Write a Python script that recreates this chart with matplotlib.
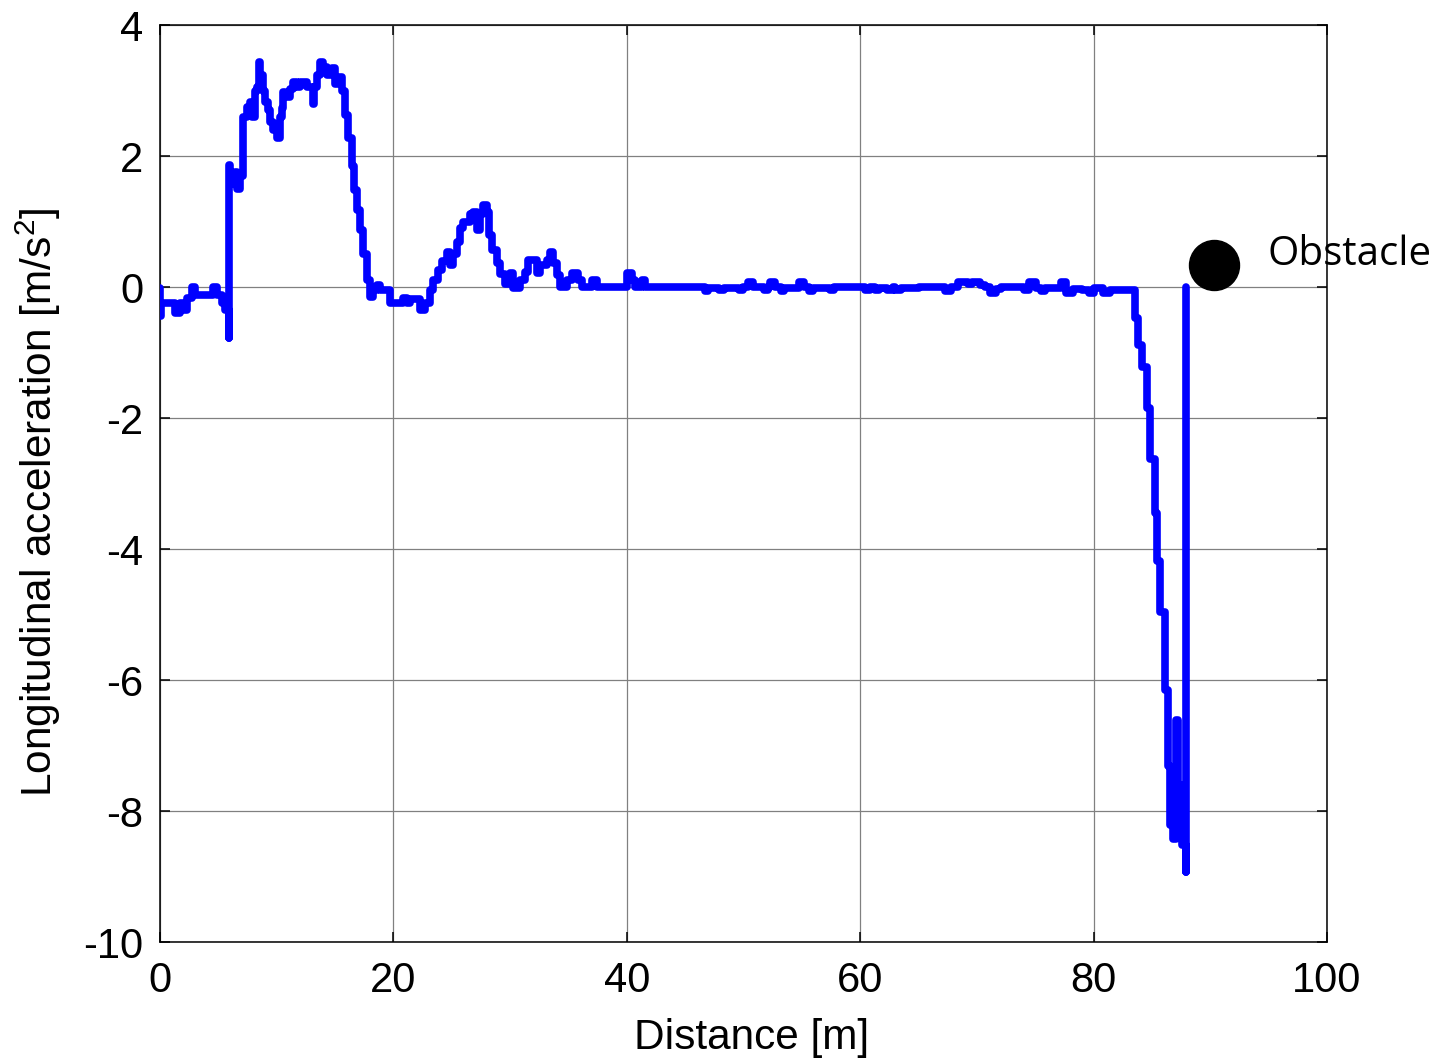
import matplotlib
matplotlib.use("Agg")
import matplotlib.pyplot as plt

plt.rcParams['font.family'] = ['Liberation Sans', 'DejaVu Sans']
plt.rcParams['mathtext.fontset'] = 'custom'
plt.rcParams['mathtext.rm'] = 'Liberation Sans'
plt.rcParams['axes.unicode_minus'] = False

# distance [m] where each constant acceleration step begins
dist = [0.0, 0.03, 0.06, 1.29, 1.71, 2.0, 2.29, 2.71, 3.0, 4.57, 4.86, 5.29, 5.57,
        5.91, 5.94, 5.97, 6.14, 6.43, 6.63, 6.86, 7.09, 7.43, 7.71, 7.86, 8.14,
        8.29, 8.45, 8.57, 8.86, 9.0, 9.29, 9.43, 9.71, 10.0, 10.29, 10.43, 10.57,
        10.71, 11.14, 11.43, 11.71, 12.0, 12.57, 13.09, 13.2, 13.43, 13.71, 14.0,
        14.29, 14.71, 15.0, 15.29, 15.57, 15.86, 16.14, 16.43, 16.63, 16.91, 17.14,
        17.43, 17.71, 18.0, 18.23, 18.57, 18.86, 19.71, 20.86, 21.14, 21.43, 22.29,
        22.71, 23.14, 23.43, 23.86, 24.14, 24.57, 24.86, 25.14, 25.43, 25.71, 26.0,
        26.57, 26.86, 27.2, 27.43, 27.71, 28.0, 28.23, 28.43, 28.86, 29.14, 29.57,
        30.0, 30.29, 30.86, 31.29, 31.57, 32.29, 32.57, 33.14, 33.43, 33.71, 34.0,
        34.29, 34.86, 35.29, 35.86, 36.14, 37.0, 37.43, 40.0, 40.43, 40.71, 41.29,
        41.57, 46.7, 47.0, 47.9, 48.3, 49.6, 50.0, 50.4, 50.8, 51.8, 52.1, 52.3,
        52.7, 53.2, 53.5, 54.8, 55.2, 55.6, 56.0, 57.4, 57.8, 60.4, 60.8, 61.3,
        61.6, 62.3, 62.8, 63.0, 63.5, 65.0, 67.3, 67.8, 68.4, 69.2, 69.6, 70.3,
        70.7, 71.1, 71.6, 72.1, 74.0, 74.5, 75.1, 75.5, 75.8, 77.2, 77.6, 78.2,
        79.0, 79.6, 80.0, 80.8, 81.4, 83.55, 83.83, 84.12, 84.55, 84.83, 85.26,
        85.43, 85.69, 86.12, 86.38, 86.55, 86.8, 87.05, 87.2, 87.4, 87.55, 87.92,
        87.95]

# longitudinal acceleration [m/s^2]
accel = [-0.02, -0.45, -0.25, -0.4, -0.25, -0.35, -0.17, 0.0, -0.12, 0.0, -0.12,
         -0.25, -0.35, -0.78, 1.86, 1.74, 1.58, 1.76, 1.5, 1.7, 2.6, 2.75, 2.83,
         2.6, 3.0, 3.06, 3.44, 3.24, 3.0, 2.83, 2.7, 2.52, 2.4, 2.27, 2.6, 2.73,
         2.98, 2.9, 3.03, 3.13, 3.06, 3.13, 3.06, 2.8, 3.06, 3.24, 3.44, 3.36,
         3.24, 3.34, 3.1, 3.2, 3.0, 2.63, 2.27, 1.84, 1.48, 1.18, 0.87, 0.51, 0.1,
         -0.15, -0.05, 0.03, -0.05, -0.25, -0.17, -0.25, -0.18, -0.35, -0.25,
         -0.05, 0.1, 0.26, 0.39, 0.54, 0.34, 0.51, 0.69, 0.9, 1.0, 1.12, 1.15,
         0.87, 1.12, 1.25, 1.15, 0.79, 0.56, 0.36, 0.2, 0.05, 0.21, -0.02, 0.1,
         0.23, 0.41, 0.21, 0.34, 0.41, 0.54, 0.36, 0.18, 0.0, 0.1, 0.21, 0.1, 0.0,
         0.1, 0.0, 0.21, 0.1, 0.0, 0.1, 0.0, -0.06, -0.02, -0.04, -0.01, -0.05,
         0.0, 0.07, 0.0, -0.05, 0.0, 0.08, 0.0, -0.06, -0.01, 0.08, 0.0, -0.06,
         -0.01, -0.05, 0.0, -0.04, 0.0, -0.05, -0.02, -0.05, 0.0, -0.04, -0.01,
         0.0, -0.06, 0.0, 0.07, 0.05, 0.08, 0.03, 0.0, -0.09, -0.03, 0.0, -0.05,
         0.07, -0.02, -0.06, -0.01, 0.08, -0.09, -0.03, -0.05, -0.09, -0.02,
         -0.09, -0.04, -0.48, -0.885, -1.22, -1.85, -2.62, -3.45, -4.19, -4.96,
         -6.15, -7.32, -8.21, -8.42, -6.61, -7.85, -7.6, -8.52, -8.93, 0.0]

obstacle_x = 90.3
obstacle_y = 0.33

fig = plt.figure(figsize=(14.4, 10.6), dpi=100)
ax = fig.add_axes([0.1111, 0.1113, 0.8104, 0.8651])

ax.plot(dist, accel, drawstyle='steps-post', color='#0000ff', lw=5.5,
        solid_joinstyle='round', solid_capstyle='round', zorder=3)
ax.plot([obstacle_x], [obstacle_y], 'o', color='black', ms=36, clip_on=False, zorder=4)
ax.text(94.9, 0.34, 'Obstacle', fontsize=29, family=['Open Sans', 'DejaVu Sans'],
        va='baseline', ha='left', clip_on=False, zorder=5)

ax.set_xlim(0, 100)
ax.set_ylim(-10, 4)
ax.set_xticks(range(0, 101, 20))
ax.set_yticks(range(-10, 5, 2))
ax.grid(True, color='#808080', lw=0.9)
ax.set_axisbelow(True)
ax.tick_params(direction='in', length=7, width=1.1, labelsize=30,
               top=True, right=True)
ax.tick_params(axis='x', pad=14)
ax.tick_params(axis='y', pad=12)
for s in ax.spines.values():
    s.set_linewidth(1.1)

ax.set_xlabel('Distance [m]', fontsize=30.5, labelpad=12)
ax.xaxis.label.set_x(0.507)
ax.set_ylabel('Longitudinal acceleration [m/s$^{2}$]', fontsize=30.5)
ax.yaxis.set_label_coords(-0.083, 0.48)

fig.savefig('out.png', dpi=100)
